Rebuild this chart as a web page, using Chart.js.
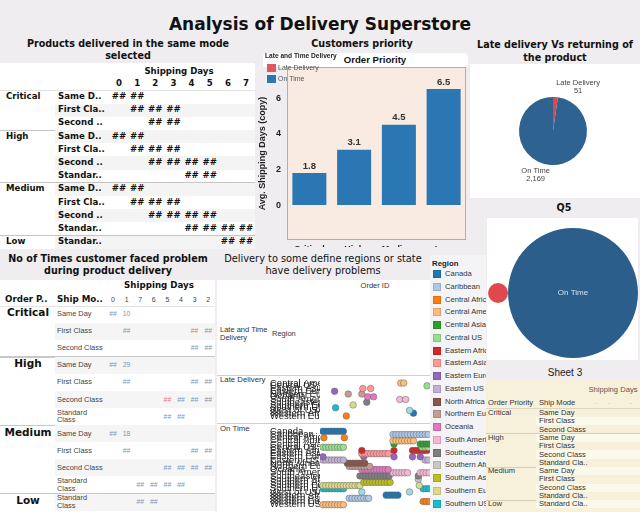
<!DOCTYPE html>
<html>
<head>
<meta charset="utf-8">
<script src="https://cdn.jsdelivr.net/npm/chart.js@4.4.1/dist/chart.umd.min.js"></script>
<style>
html, body { margin: 0; padding: 0; }
body { width: 640px; height: 512px; overflow: hidden; background: #efedf0; }
#page { position: relative; width: 640px; height: 512px; overflow: hidden; }
.abs { position: absolute; }
</style>
</head>
<body>
<div id="page"></div>
<script>
// ---- data ----
const priorities = ['Critical', 'High', 'Medium', 'Low'];
const avgShipDays = [1.8, 3.1, 4.5, 6.5];
const yTicks = [0, 2, 4, 6];

const deliveryStatus = ['Late Delivery', 'On Time'];
const deliveryCounts = [51, 2169];
const bubbleX = [0, 1];

// products delivered in the same mode (top left)
const t1Days = [0, 1, 2, 3, 4, 5, 6, 7];
const t1Modes = [
  ['Same D..', 'First Cla..', 'Second ..'],
  ['Same D..', 'First Cla..', 'Second ..', 'Standar..'],
  ['Same D..', 'First Cla..', 'Second ..', 'Standar..'],
  ['Standar..']
];
const t1Filled = [
  [[0, 1], [1, 2, 3], [2, 3]],
  [[0, 1], [1, 2, 3], [2, 3, 4, 5], [4, 5]],
  [[0, 1], [1, 2, 3], [2, 3, 4, 5], [4, 5, 6, 7]],
  [[6, 7]]
];

// no of times customer faced problem (bottom left), '!' = late delivery
const t2Days = ['0', '1', '7', '6', '5', '4', '3', '2'];
const t2Modes = [
  ['Same Day', 'First Class', 'Second Class'],
  ['Same Day', 'First Class', 'Second Class', 'Standard\nClass'],
  ['Same Day', 'First Class', 'Second Class', 'Standard\nClass'],
  ['Standard\nClass']
];
const t2Cells = [
  [['##', '10', '', '', '', '', '', ''], ['', '##', '', '', '', '', '!##', '##'], ['', '', '', '', '', '', '##', '##']],
  [['##', '29', '', '', '', '', '', ''], ['', '##', '', '', '', '', '##', '##'], ['', '', '', '', '!##', '##', '##', '##'], ['', '', '', '', '##', '##', '', '']],
  [['##', '18', '', '', '', '', '', ''], ['', '##', '', '', '', '', '##', '##'], ['', '', '', '', '##', '##', '##', '##'], ['', '', '##', '##', '##', '##', '', '']],
  [['', '', '##', '##', '', '', '', '']]
];

// sheet 3
const s3Modes = [
  ['Same Day', 'First Class', 'Second Class'],
  ['Same Day', 'First Class', 'Second Class', 'Standard Cla..'],
  ['Same Day', 'First Class', 'Second Class', 'Standard Cla..'],
  ['Standard Cla..']
];

// regions
const regionNames = ['Canada', 'Caribbean', 'Central Africa', 'Central America', 'Central Asia', 'Central US',
  'Eastern Africa', 'Eastern Asia', 'Eastern Europe', 'Eastern US', 'North Africa', 'Northern Europe',
  'Oceania', 'South America', 'Southeastern Asia', 'Southern Africa', 'Southern Asia', 'Southern Europe',
  'Southern US', 'West of USA', 'Western Africa', 'Western Asia', 'Western Europe', 'Western US'];
const regionColors = ['#1f77b4', '#aec7e8', '#ff7f0e', '#ffbb78', '#2ca02c', '#98df8a',
  '#d62728', '#ff9896', '#9467bd', '#c5b0d5', '#8c564b', '#c49c94',
  '#e377c2', '#f7b6d2', '#7f7f7f', '#c7c7c7', '#bcbd22', '#dbdb8d',
  '#17becf', '#9edae5', '#1f77b4', '#aec7e8', '#ff7f0e', '#ffbb78'];

const lateRegions = ['Central America', 'Central US', 'Eastern Asia', 'Eastern Europe', 'Northern Europe', 'Oceania',
  'South America', 'Southeastern Asia', 'Southern Europe', 'Southern US', 'West of USA', 'Western Africa', 'Western Europe'];
const lateOrders = [[80, 83], [107], [41, 49], [12], [26, 40], [46, 52], [79, 85], [45], [31], [13], [89], [93], [24]];

const onTimeRegions = regionNames;
const onTimeOrders = [
  [0, 3, 6, 9, 12, 15, 18, 21],
  [72, 75, 78, 81, 84, 87, 90, 93, 96, 99, 102, 105, 108],
  [1, 22],
  [72, 75, 78, 81, 84, 87, 90, 93],
  [73, 100, 103, 106, 109],
  [0, 3, 6, 9, 12, 15, 18, 21, 102, 105, 108],
  [40, 73, 92, 95, 98, 101, 104, 107],
  [40, 43, 46, 49, 52, 55, 58, 61, 64, 67],
  [0, 42, 73, 92, 100],
  [0, 3, 6, 9, 12, 15, 18, 21, 105, 108],
  [25, 28, 31, 34, 37, 40, 43],
  [27, 30, 33, 36, 39, 42, 45, 48],
  [40, 43, 46, 49, 52, 55, 58, 61, 64, 67],
  [72, 75, 78, 81, 84, 87, 100, 103, 106, 109],
  [38, 41, 44, 47, 50, 53, 56, 59, 62, 65, 68, 98],
  [98],
  [42, 45, 48, 51, 54, 57, 60, 63, 66, 69],
  [0, 3, 6, 9, 12, 15, 18, 21, 24, 27, 30, 33, 36, 38, 99],
  [0, 3, 6, 9, 12, 15, 18, 21, 103, 106, 109],
  [40, 89],
  [65, 68, 71, 74, 77],
  [27, 30, 33, 36, 39, 42, 45, 47],
  [103, 106, 109],
  [0, 3, 6, 9, 12, 15, 18, 21]
];

// ---- helpers ----
const page = document.getElementById('page');
const DJ = '"DejaVu Sans"';
const LS = '"Liberation Sans"';
Chart.defaults.font.family = 'Liberation Sans';

function box(x, y, w, h, bg, css, parent) {
  const d = document.createElement('div');
  d.className = 'abs';
  d.style.cssText = `left:${x}px;top:${y}px;width:${w}px;height:${h}px;background:${bg};` + (css || '');
  (parent || page).appendChild(d);
  return d;
}

function put(text, x, y, font, color, align, css, parent) {
  const d = document.createElement('div');
  d.className = 'abs';
  d.textContent = text;
  const tx = align === 'center' ? '-50%' : align === 'right' ? '-100%' : '0';
  d.style.cssText = `left:${x}px;top:${y}px;font:${font};color:${color};white-space:pre;line-height:1.1;` +
    `transform:translate(${tx},-50%);text-align:${align || 'left'};` + (css || '');
  (parent || page).appendChild(d);
  return d;
}

function canvasAt(x, y, w, h, parent) {
  const c = document.createElement('canvas');
  c.width = w; c.height = h;
  c.style.cssText = `position:absolute;left:${x}px;top:${y}px;width:${w}px;height:${h}px;`;
  (parent || page).appendChild(c);
  return c;
}

const colorOf = name => regionColors[regionNames.indexOf(name)];

// ---- titles ----
put('Analysis of Delivery Superstore', 320, 24, `bold 17px ${DJ}`, '#111', 'center');

// ---- top left table ----
put('Products delivered in the same mode\nselected', 128, 50, `bold 9.6px ${DJ}`, '#111', 'center', 'line-height:12px;');
box(0, 63, 255, 186, '#fff');
const f1 = `bold 8.6px ${DJ}`;
put('Shipping Days', 179, 72, f1, '#111', 'center');
t1Days.forEach((d, j) => put(String(d), 119 + j * 18.15, 84, f1, '#111', 'center'));
box(0, 90, 255, 1, '#e2e2e2');
let r = 0;
priorities.forEach((p, g) => {
  put(p, 6, 97 + r * 13.2, f1, '#111');
  t1Modes[g].forEach((m, k) => {
    const y = 97 + r * 13.2;
    if (r % 2 === 1) box(55, y - 6.6, 200, 13.2, '#f4f4f4');
    put(m, 58, y, f1, '#111');
    t1Filled[g][k].forEach(d => put('##', 119 + d * 18.15, y, f1, '#111', 'center'));
    r++;
  });
  if (g < 3) box(0, 97 + r * 13.2 - 7, 255, 1, '#c4c4c4');
});

// ---- bar chart ----
put('Customers priority', 362, 44, `bold 9.6px ${DJ}`, '#111', 'center');
box(263, 53, 205, 14, '#fff', 'border-radius:4px 4px 0 0;');
put('Order Priority', 375, 60, `bold 9.6px ${LS}`, '#111', 'center');
const barWrap = box(255, 48, 215, 199, 'transparent', 'overflow:hidden;');
const barCanvas = canvasAt(0, 0, 215, 212, barWrap);

const plotBg = {
  id: 'plotBg',
  beforeDraw(c) {
    const a = c.chartArea, x = c.ctx;
    x.save();
    x.fillStyle = '#f9ebe2';
    x.fillRect(a.left, a.top, a.width, a.height);
    x.strokeStyle = '#b9aca7';
    x.lineWidth = 1;
    x.strokeRect(a.left + 0.5, a.top + 0.5, a.width - 1, a.height - 1);
    x.restore();
  }
};
const barLabels = {
  id: 'barLabels',
  afterDatasetsDraw(c) {
    const ctx = c.ctx;
    ctx.save();
    ctx.font = `bold 9.5px ${LS}`;
    ctx.fillStyle = '#333';
    ctx.textAlign = 'center';
    ctx.textBaseline = 'middle';
    c.getDatasetMeta(0).data.forEach((b, i) => {
      ctx.fillText(c.data.datasets[0].data[i].toFixed(1), b.x, b.y - 7);
    });
    ctx.restore();
  }
};

new Chart(barCanvas, {
  type: 'bar',
  data: {
    labels: priorities,
    datasets: [{
      label: 'On Time',
      data: avgShipDays,
      backgroundColor: '#2a77b4',
      barPercentage: 0.76,
      categoryPercentage: 1
    }]
  },
  options: {
    responsive: false,
    animation: false,
    layout: { padding: { top: 19, right: 4, bottom: 0, left: 2 } },
    plugins: { legend: { display: false }, tooltip: { enabled: false } },
    scales: {
      x: {
        grid: { display: false, drawTicks: false },
        border: { display: false },
        ticks: { padding: 4, color: '#222', font: { size: 9, weight: 'bold' } },
        afterFit(s) { s.height = 20; }
      },
      y: {
        min: -1.96,
        max: 7.74,
        grid: { display: false, drawTicks: false },
        border: { display: false },
        ticks: { padding: 6, color: '#222', font: { size: 9, weight: 'bold' } },
        afterBuildTicks(s) { s.ticks = yTicks.map(v => ({ value: v })); },
        title: { display: true, text: 'Avg. Shipping Days (copy)', color: '#222', padding: 0, font: { size: 9, weight: 'bold' } },
        afterFit(s) { s.width = 30; }
      }
    }
  },
  plugins: [plotBg, barLabels]
});

// bar chart legend (overlay)
put('Late and Time Delivery', 265, 56, `bold 6.6px ${LS}`, '#222');
box(267, 63.5, 9, 8, '#e05763');
put(deliveryStatus[0], 278, 67.5, `7px ${LS}`, '#555');
box(267, 75, 9, 8, '#2a77b4');
put(deliveryStatus[1], 278, 79, `7px ${LS}`, '#555');

// ---- pie ----
put('Late delivery Vs returning of\nthe product', 555, 50.5, `bold 9.6px ${DJ}`, '#111', 'center', 'line-height:13px;');
box(470, 64, 170, 134, '#fff');
const pieCanvas = canvasAt(470, 64, 170, 134);
const pieLabels = {
  id: 'pieLabels',
  afterDatasetsDraw(c) {
    const ctx = c.ctx;
    ctx.save();
    ctx.font = `7.5px ${LS}`;
    ctx.fillStyle = '#444';
    ctx.textAlign = 'center';
    ctx.textBaseline = 'middle';
    c.getDatasetMeta(0).data.forEach((a, i) => {
      const mid = (a.startAngle + a.endAngle) / 2;
      const R = a.outerRadius + 10;
      const px = a.x + Math.cos(mid) * R, py = a.y + Math.sin(mid) * R;
      const lines = [c.data.labels[i], c.data.datasets[0].data[i].toLocaleString('en-US')];
      const w = Math.max(...lines.map(t => ctx.measureText(t).width));
      const cx = Math.cos(mid) >= 0 ? px + w / 2 : px - w / 2;
      ctx.fillText(lines[0], cx, py - 4.3);
      ctx.fillText(lines[1], cx, py + 4.3);
    });
    ctx.restore();
  }
};
new Chart(pieCanvas, {
  type: 'pie',
  data: {
    labels: deliveryStatus,
    datasets: [{ data: deliveryCounts, backgroundColor: ['#e0474c', '#2d6291'], borderWidth: 0 }]
  },
  options: {
    responsive: false,
    animation: false,
    layout: { padding: { left: 49, right: 53, top: 33, bottom: 33 } },
    plugins: { legend: { display: false }, tooltip: { enabled: false } }
  },
  plugins: [pieLabels]
});

// ---- Q5 bubbles ----
put('Q5', 564, 208, `bold 9.6px ${DJ}`, '#111', 'center');
box(487, 218, 151, 142, '#fff');
const bubCanvas = canvasAt(487, 218, 151, 142);
const bubLabel = {
  id: 'bubLabel',
  afterDatasetsDraw(c) {
    const p = c.getDatasetMeta(0).data[1];
    const ctx = c.ctx;
    ctx.save();
    ctx.font = `8px ${LS}`;
    ctx.fillStyle = '#d3e2ef';
    ctx.textAlign = 'center';
    ctx.textBaseline = 'middle';
    ctx.fillText(deliveryStatus[1], p.x, p.y);
    ctx.restore();
  }
};
new Chart(bubCanvas, {
  type: 'bubble',
  data: {
    datasets: [{
      data: deliveryCounts.map((v, i) => ({ x: bubbleX[i], y: 0, r: Math.sqrt(v) * 1.395 })),
      backgroundColor: ['#e0484d', '#2b5e8b'],
      borderWidth: 0,
      clip: false
    }]
  },
  options: {
    responsive: false,
    animation: false,
    layout: { padding: 0, autoPadding: false },
    plugins: { legend: { display: false }, tooltip: { enabled: false } },
    scales: {
      x: { display: false, min: -0.147, max: 1.867 },
      y: { display: false, min: -1, max: 1.12 }
    }
  },
  plugins: [bubLabel]
});

// ---- Sheet 3 ----
put('Sheet 3', 565, 372, `10px ${LS}`, '#222', 'center');
box(485, 380, 155, 132, '#f7f1dc');
const f3 = `7.6px ${LS}`;
put('Shipping Days', 613, 390, f3, '#555', 'center');
put('Order Priority', 488, 403, f3, '#333');
put('Ship Mode', 539, 403, f3, '#333');
[596, 609, 631].forEach(x => put('·', x, 404, f3, '#aaa', 'center'));
box(485, 408, 155, 1, '#ddd6c0');
let s = 0;
priorities.forEach((p, g) => {
  put(p, 488, 413 + s * 8.3, f3, '#333');
  s3Modes[g].forEach(m => {
    const y = 413 + s * 8.3;
    if (s % 2 === 1) box(536, y - 4.15, 104, 8.3, '#fbf8ec');
    put(m, 539, y, f3, '#333');
    s++;
  });
  if (g < 3) box(485, 413 + s * 8.3 - 4.6, 155, 1, '#d5cdb5');
});

// ---- bottom left table ----
put('No of Times customer faced problem\nduring product delivery', 108, 265, `bold 9.6px ${DJ}`, '#111', 'center', 'line-height:12px;');
box(0, 280, 215, 232, '#fff');
put('Shipping Days', 159, 286, `bold 8.7px ${DJ}`, '#111', 'center');
put('Order P..', 5, 300, `bold 8.7px ${DJ}`, '#111');
put('Ship Mo..', 57, 300, `bold 8.7px ${DJ}`, '#111');
t2Days.forEach((d, j) => put(d, 113 + j * 13.6, 300, `7px ${LS}`, '#444', 'center'));
box(0, 306, 215, 1, '#e4e4e4');
let q = 0;
priorities.forEach((p, g) => {
  put(p, 28, 313 + q * 17.1, `bold 10.5px ${DJ}`, '#111', 'center');
  t2Modes[g].forEach((m, k) => {
    const y = 314 + q * 17.1;
    if (q % 2 === 1) box(55, y - 8.55, 160, 17.1, '#f5f5f5');
    put(m, 57, y, `7.4px ${LS}`, '#444', 'left', 'line-height:1.05;');
    t2Cells[g][k].forEach((v, j) => {
      if (!v) return;
      const late = v[0] === '!';
      put(late ? v.slice(1) : v, 113 + j * 13.6, y, `6.8px ${LS}`, late ? '#e8707a' : '#7d95b5', 'center');
    });
    q++;
  });
  if (g < 3) box(0, 314 + q * 17.1 - 9, 215, 1.3, '#c8c8c8');
});

// ---- region scatter ----
put('Delivery to some define regions or state\nhave delivery problems', 323, 265, `9.8px ${DJ}`, '#111', 'center', 'line-height:12px;');
box(217, 280, 213, 232, '#fff');
put('Order ID', 375, 286, `7.5px ${LS}`, '#333', 'center');
put('Late and Time\nDelivery', 220, 334, `7.5px ${LS}`, '#333');
put('Region', 272, 334, `7.5px ${LS}`, '#333');
box(217, 375, 213, 1, '#d0d0d0');
box(217, 423, 213, 1, '#d0d0d0');
put(deliveryStatus[0], 220, 380, `7.8px ${LS}`, '#333');
put(deliveryStatus[1], 220, 429, `7.8px ${LS}`, '#333');

function regionScatter(canvas, regions, orders) {
  new Chart(canvas, {
    type: 'scatter',
    data: {
      datasets: regions.map((name, i) => ({
        label: name,
        data: orders[i].map(v => ({ x: v, y: name })),
        backgroundColor: colorOf(name),
        borderColor: 'rgba(95,95,95,0.6)',
        borderWidth: 0.8,
        pointRadius: 3.3
      }))
    },
    options: {
      responsive: false,
      animation: false,
      layout: { padding: 0, autoPadding: false },
      plugins: { legend: { display: false }, tooltip: { enabled: false } },
      scales: {
        x: { type: 'linear', display: false, min: -3, max: 110 },
        y: {
          type: 'category',
          labels: regions,
          offset: true,
          grid: { display: false, drawTicks: false },
          border: { display: false },
          ticks: {
            autoSkip: false,
            padding: 0,
            crossAlign: 'far',
            color: '#222',
            font: { size: 9.5 },
            callback(v) {
              const n = this.getLabelForValue(v);
              return n.length > 13 ? n.slice(0, 13) + '..' : n;
            }
          },
          afterFit(sc) { sc.width = 50; }
        }
      }
    }
  });
}
regionScatter(canvasAt(270, 376, 160, 47), lateRegions, lateOrders);
regionScatter(canvasAt(270, 424, 160, 88), onTimeRegions, onTimeOrders);

// ---- region legend ----
const lg = box(430, 255, 56, 257, '#f4f3f5', 'overflow:hidden;');
put('Region', 2, 9, `bold 7.8px ${LS}`, '#222', 'left', '', lg);
regionNames.slice(0, 19).forEach((n, i) => {
  const y = 19 + i * 12.75;
  box(3, y - 4, 8, 8, regionColors[i], 'box-sizing:border-box;border:1px solid rgba(0,0,0,0.12);', lg);
  put(n, 15, y, `7.6px ${LS}`, '#333', 'left', '', lg);
});
</script>
</body>
</html>
